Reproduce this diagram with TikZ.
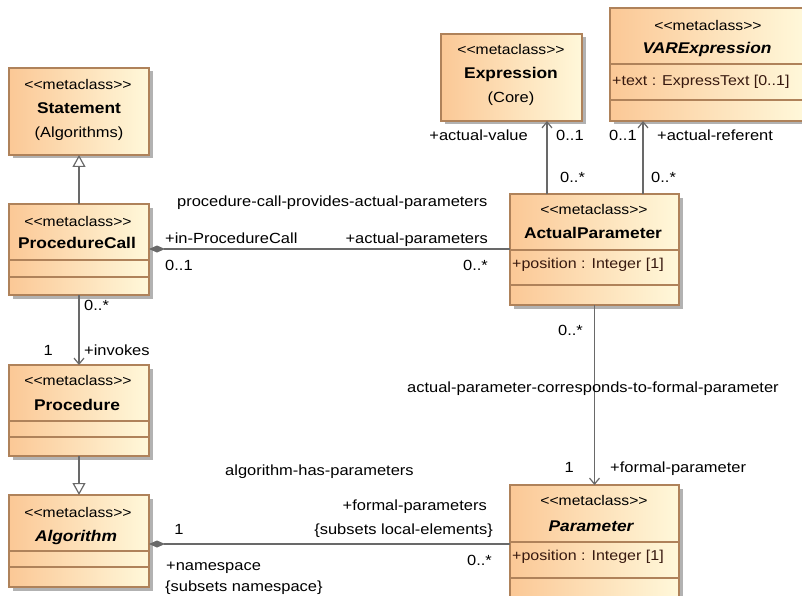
\documentclass[tikz,border=0pt]{standalone}
\usepackage{fontspec}
\setmainfont[FakeStretch=1.12]{Liberation Sans}
\usetikzlibrary{arrows.meta,shadows}
\definecolor{boxL}{RGB}{251,200,150}
\definecolor{boxR}{RGB}{255,248,218}
\definecolor{boxB}{RGB}{175,130,90}
\definecolor{lineC}{RGB}{105,105,105}
\definecolor{attrC}{RGB}{55,25,15}
\newcommand{\stereotxt}{<{}<metaclass>{}>}
\tikzset{
  cls/.style={draw=boxB, line width=1.2pt, left color=boxL, right color=boxR,
    drop shadow={shadow xshift=3.5pt, shadow yshift=-3.5pt, fill=black, opacity=0.3},
    inner sep=0pt, outer sep=0pt},
  sep/.style={draw=boxB, line width=1.2pt},
  lbl/.style={inner sep=0pt, font=\fontsize{14.7}{16}\selectfont, text height=10pt, text depth=3pt},
  stereo/.style={inner sep=0pt, font=\fontsize{14}{15}\selectfont},
  cname/.style={inner sep=0pt, font=\fontsize{15.5}{17}\selectfont\bfseries},
  aname/.style={inner sep=0pt, font=\fontsize{15.5}{17}\selectfont\bfseries\itshape},
  attr/.style={inner sep=0pt, font=\fontsize{14.3}{16}\selectfont, text=attrC, anchor=west},
  conn/.style={draw=lineC, line width=1.2pt},
  gen/.style={conn, -{Triangle[open, length=12pt, width=13pt, fill=white]}},
  nav/.style={conn, -{Straight Barb[length=6pt, width=10pt]}},
  comp/.style={conn, {Diamond[length=16pt, width=7pt, fill=lineC]}-},
}
\begin{document}
\begin{tikzpicture}[x=1pt, y=-1pt]
\fill[white] (0,0) rectangle (802,596);
\useasboundingbox (0,0) rectangle (802,596);

% ---- class boxes ----
\node[cls, minimum width=140pt, minimum height=87pt] (stmt) at (79,111.5) {};
\node[stereo] (stmtS) at (78,84) {\stereotxt};
\node[cname] (stmtN) at (79,108) {Statement};
\node[lbl] (stmtP) at (79,134) {(Algorithms)};

\node[cls, minimum width=140pt, minimum height=91pt] (pc) at (79,249.5) {};
\node[stereo] (pcS) at (78,221) {\stereotxt};
\node[cname] (pcN) at (77,243) {ProcedureCall};
\draw[sep] (9,260) -- (149,260) (9,277) -- (149,277);

\node[cls, minimum width=140pt, minimum height=91pt] (proc) at (79,410.5) {};
\node[stereo] (procS) at (78,380) {\stereotxt};
\node[cname] (procN) at (77,405) {Procedure};
\draw[sep] (9,421) -- (149,421) (9,437) -- (149,437);

\node[cls, minimum width=140pt, minimum height=92pt] (alg) at (79,541) {};
\node[stereo] (algS) at (78,512) {\stereotxt};
\node[aname] (algN) at (76,537) {Algorithm};
\draw[sep] (9,551) -- (149,551) (9,567) -- (149,567);

\node[cls, minimum width=141pt, minimum height=87pt] (expr) at (511.5,77.5) {};
\node[stereo] (exprS) at (511,49) {\stereotxt};
\node[cname] (exprN) at (511,74) {Expression};
\node[lbl] (exprP) at (511,99) {(Core)};

\node[cls, minimum width=195pt, minimum height=113pt] (varx) at (707.5,64.5) {};
\node[stereo] (varxS) at (708,25) {\stereotxt};
\node[aname] (varxN) at (707,49) {VARExpression};
\draw[sep] (610,64) -- (805,64) (610,100) -- (805,100);
\node[attr] (varxA) at (612,82) {+text : ExpressText [0..1]};

\node[cls, minimum width=169pt, minimum height=111pt] (ap) at (594.5,249.5) {};
\node[stereo] (apS) at (594,209) {\stereotxt};
\node[cname] (apN) at (593,233) {ActualParameter};
\draw[sep] (510,250) -- (679,250) (510,285) -- (679,285);
\node[attr] (apA) at (512,265) {+position : Integer [1]};

\node[cls, minimum width=169pt, minimum height=130pt] (par) at (594.5,550) {};
\node[stereo] (parS) at (594,500) {\stereotxt};
\node[aname] (parN) at (591,526) {Parameter};
\draw[sep] (510,542) -- (679,542) (510,578) -- (679,578);
\node[attr] (parA) at (512,557) {+position : Integer [1]};

% ---- connectors ----
\draw[gen] (pc.north) -- (stmt.south);
\draw[nav] (pc.south) -- (proc.north);
\draw[gen] (proc.south) -- (alg.north);
\draw[comp] (pc.east |- 0,249) -- (ap.west |- 0,249);
\draw[comp] (alg.east |- 0,544) -- (par.west |- 0,544);
\draw[nav] (ap.north -| 547,0) -- (expr.south -| 547,0);
\draw[nav] (ap.north -| 643,0) -- (varx.south -| 643,0);
\draw[nav] (ap.south) -- (par.north);

% ---- labels ----
\node[lbl, anchor=west] (l1) at (84,307) {0..*};
\node[lbl, anchor=east] (l2) at (53,352) {1};
\node[lbl, anchor=west] (l3) at (84,352) {+invokes};

\node[lbl, anchor=west] (l4) at (177,203) {procedure-call-provides-actual-parameters};
\node[lbl, anchor=west] (l5) at (165,240) {+in-ProcedureCall};
\node[lbl, anchor=east] (l6) at (488,240) {+actual-parameters};
\node[lbl, anchor=west] (l7) at (165,267) {0..1};
\node[lbl, anchor=east] (l8) at (488,267) {0..*};

\node[lbl, anchor=east] (l9) at (528,137) {+actual-value};
\node[lbl, anchor=west] (l10) at (556,137) {0..1};
\node[lbl, anchor=west] (l11) at (560,179) {0..*};
\node[lbl, anchor=west] (l12) at (609,137) {0..1};
\node[lbl, anchor=west] (l13) at (657,137) {+actual-referent};
\node[lbl, anchor=west] (l14) at (651,179) {0..*};

\node[lbl, anchor=east] (l15) at (583,332) {0..*};
\node[lbl, anchor=west] (l16) at (407,389) {actual-parameter-corresponds-to-formal-parameter};
\node[lbl, anchor=east] (l17) at (574,469) {1};
\node[lbl, anchor=west] (l18) at (610,469) {+formal-parameter};

\node[lbl, anchor=west] (l19) at (225,472) {algorithm-has-parameters};
\node[lbl, anchor=east] (l20) at (487,507) {+formal-parameters};
\node[lbl, anchor=east] (l21) at (493,531) {\{subsets local-elements\}};
\node[lbl] (l22) at (179,531) {1};
\node[lbl, anchor=east] (l23) at (492,562) {0..*};
\node[lbl, anchor=west] (l24) at (166,567) {+namespace};
\node[lbl, anchor=west] (l25) at (165,588) {\{subsets namespace\}};
\end{tikzpicture}
\end{document}
